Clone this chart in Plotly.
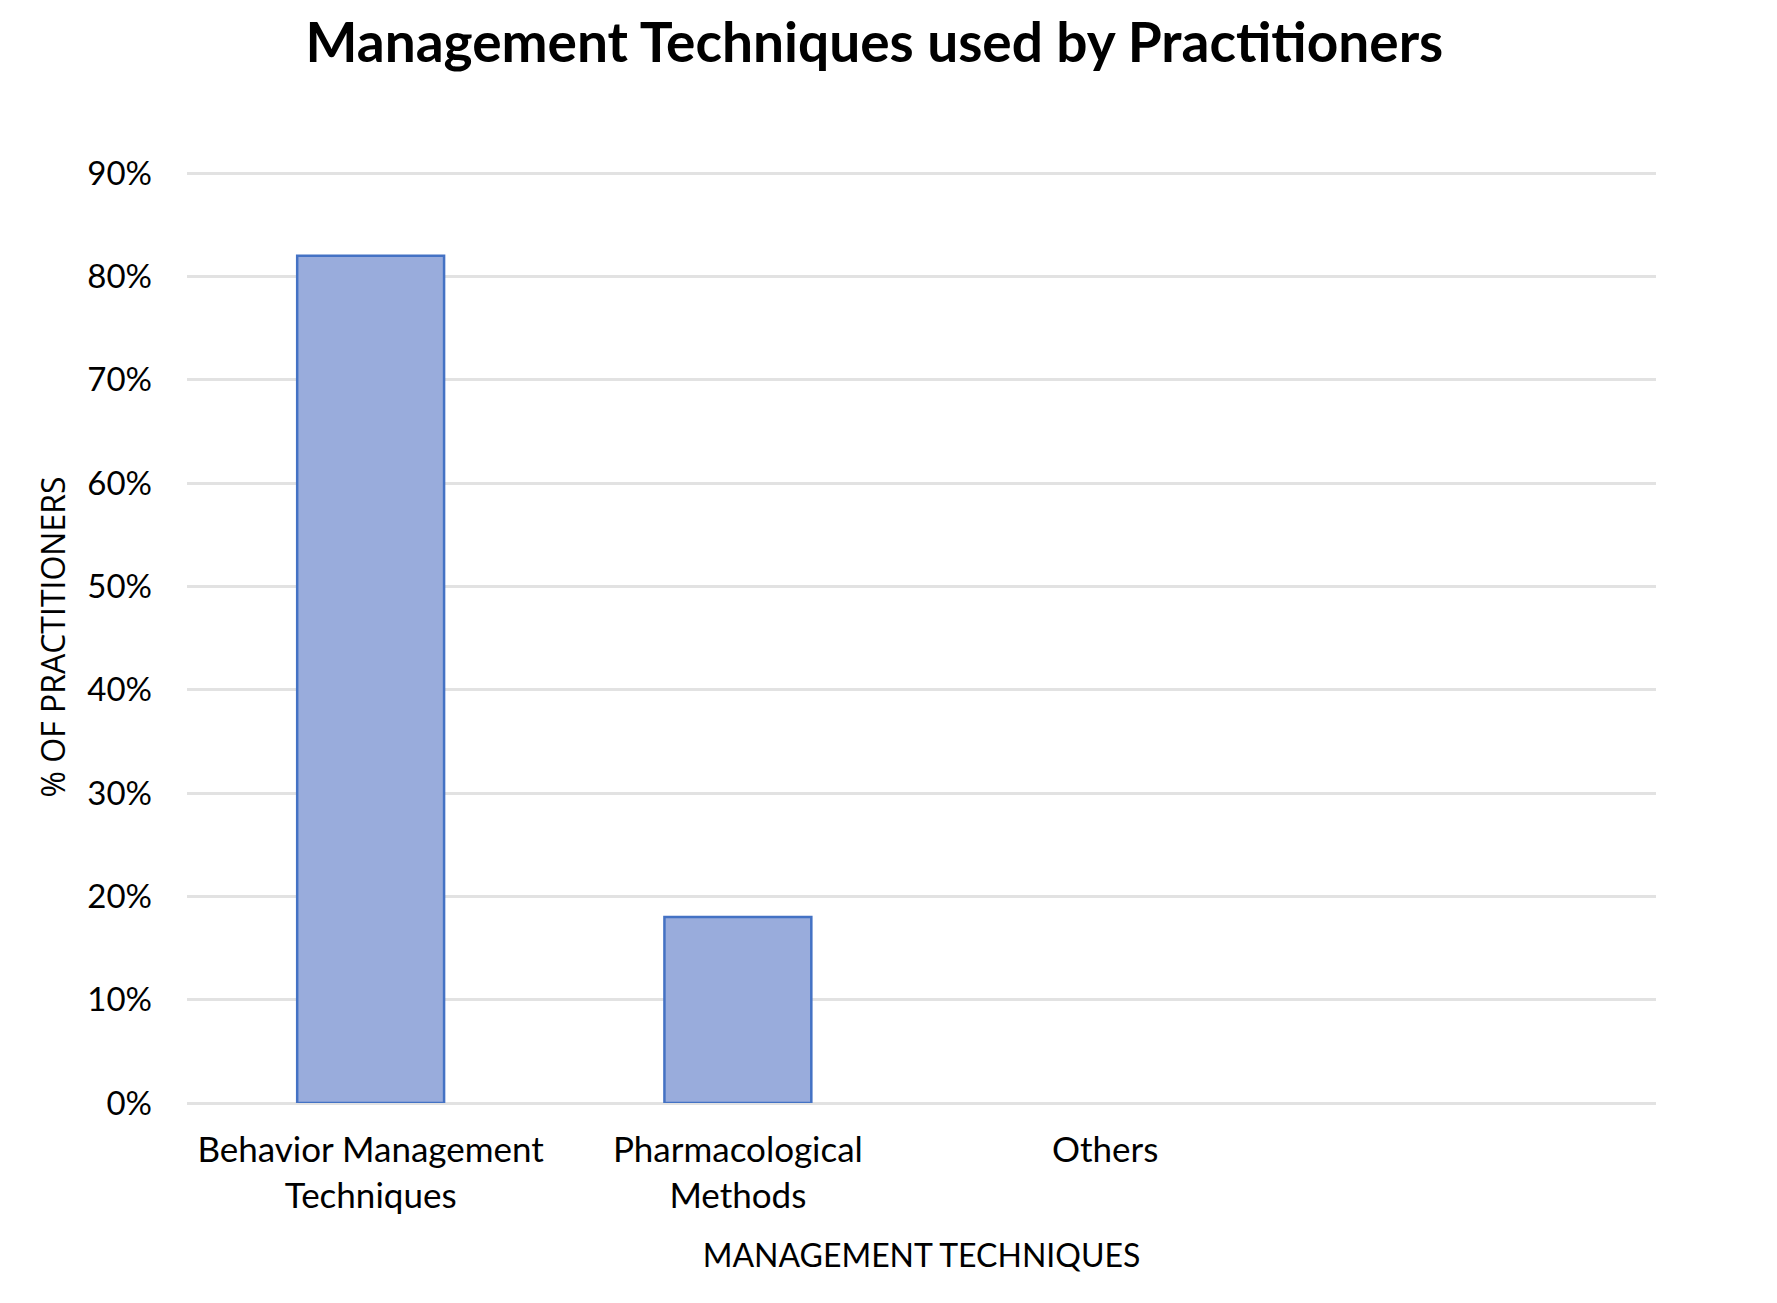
import plotly.graph_objects as go

# data
techniques = ["Behavior Management<br>Techniques", "Pharmacological<br>Methods", "Others", " "]
share = [0.82, 0.18, None, None]
y_ticks = [0, 0.1, 0.2, 0.3, 0.4, 0.5, 0.6, 0.7, 0.8, 0.9]

# page body has an 8px margin, so the figure is a bit smaller than the window
W, H = 1761, 1287

fig = go.Figure()

fig.add_trace(go.Bar(
    x=techniques,
    y=share,
    width=0.4,
    marker=dict(color="#99ACDC", line=dict(color="#4472C4", width=2.5)),
    showlegend=False))

fig.update_layout(
    width=W, height=H,
    margin=dict(l=179, r=113, t=163, b=192),
    plot_bgcolor="white",
    paper_bgcolor="white",
    font=dict(family="Lato", color="black"),
    title=dict(
        text="<b>Management Techniques used by Practitioners</b>",
        font=dict(family="Lato", size=55, color="black"),
        x=0.492, xref="container", xanchor="center",
        y=1 - 35 / H, yref="container", yanchor="middle"),
    bargap=0.6,
)

fig.update_xaxes(
    type="category",
    showgrid=False,
    showline=False,
    ticks="",
    ticklabelstandoff=23,
    tickfont=dict(family="Lato", size=35, color="black"),
    title=dict(text="MANAGEMENT TECHNIQUES", standoff=31,
               font=dict(family="Lato", size=32, color="black")),
)

fig.update_yaxes(
    range=[0, 0.902],
    tickvals=y_ticks,
    tickformat=".0%",
    showgrid=True,
    gridcolor="#E2E2E2",
    gridwidth=3,
    zeroline=True,
    zerolinecolor="#E2E2E2",
    zerolinewidth=3,
    showline=False,
    ticks="",
    ticklabelstandoff=34,
    tickfont=dict(family="Lato", size=33, color="black"),
    title=dict(text="% OF PRACTITIONERS", standoff=12,
               font=dict(family="Open Sans", size=32, color="black")),
)

fig.write_html("out.html")
